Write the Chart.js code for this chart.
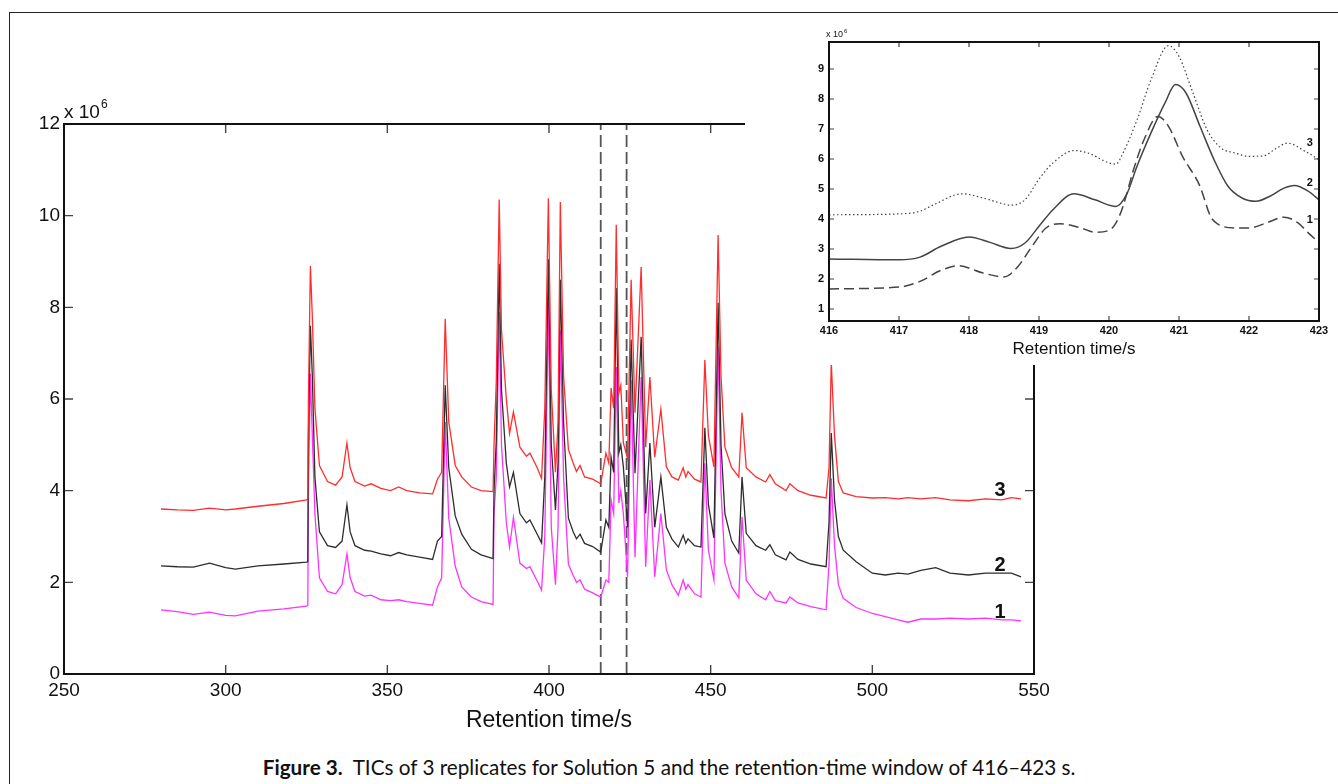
<!DOCTYPE html>
<html>
<head>
<meta charset="utf-8">
<title>TICs of 3 replicates</title>
<script src="https://cdn.jsdelivr.net/npm/chart.js@4.4.1/dist/chart.umd.min.js"></script>
<style>
  html, body { margin: 0; padding: 0; background: #fff; }
  body { width: 1338px; height: 784px; position: relative; overflow: hidden; }
  #frame { position: absolute; left: 9px; top: 12px; width: 1340px; height: 780px;
           border-left: 1.5px solid #222; border-top: 1.5px solid #222; }
  #mainBox { position: absolute; left: 0; top: 0; width: 1338px; height: 740px; }
  #insetBox { position: absolute; left: 745px; top: 20px; width: 593px; height: 345px; background: #fff; }
  #caption { position: absolute; left: 0; top: 756px; width: 1338px; text-align: center;
             font-family: Lato, "Open Sans", sans-serif; font-size: 20.7px; line-height: 22px; color: #111; }
  #caption b { font-weight: 700; }
</style>
</head>
<body>
<div id="frame"></div>
<div id="mainBox"><canvas id="mainChart" width="1338" height="740"></canvas></div>
<div id="insetBox"><canvas id="insetChart" width="593" height="345"></canvas></div>
<div id="caption"><b>Figure 3.</b>&nbsp; TICs of 3 replicates for Solution 5 and the retention-time window of 416–423 s.</div>

<script>
// -----------------------------
// Data: main chromatograms (x 10^6 counts)
// -----------------------------
const times = [280, 285, 290, 295, 300, 303, 310, 318, 325, 325.4, 325.6, 326.2, 326.8, 327.6, 329, 331.5, 334, 336,
  337.5, 338.5, 340, 343, 345, 348, 351, 353.5, 356, 360, 364, 365.5, 366.8, 367.9, 369, 371, 373, 376, 379,
  382.7, 383.0, 383.7, 384.6, 385.3, 386.8, 387.8, 389.0, 391, 393, 394.1, 396.2, 397.7, 398.7, 399.8, 400.7,
  402, 402.8, 403.5, 404.5, 406, 407.5, 408.5, 409.6, 411, 413.5, 416, 417.6, 418.5, 419.2, 420.0, 420.8,
  421.6, 422.2, 423, 424.3, 425.4, 426.6, 428.5, 429.9, 431.2, 432.7, 434.6, 436.3, 438, 440, 441.5, 442.3,
  443, 445, 447, 448.2, 449.3, 451, 452.3, 453.2, 454.4, 456.5, 458.7, 459.7, 461, 464, 467, 468.3, 470,
  473.3, 474.5, 477, 481, 485.7, 486.6, 487.3, 488.3, 489.5, 491, 495, 500, 504, 508, 511, 515, 519.6, 524,
  529.7, 535, 540, 543, 546];

const tic3 = [3.60, 3.58, 3.57, 3.62, 3.58, 3.60, 3.66, 3.72, 3.80, 3.82, 6.0, 8.9, 7.8, 5.8, 4.55, 4.2, 4.12, 4.3,
  5.04, 4.5, 4.2, 4.1, 4.15, 4.05, 4.0, 4.08, 4.0, 3.95, 3.93, 4.25, 4.4, 7.75, 5.5, 4.55, 4.3, 4.08, 4.0,
  3.98, 5.0, 6.4, 10.35, 7.5, 6.0, 5.25, 5.72, 4.95, 4.75, 4.82, 4.52, 4.27, 5.8, 10.38, 6.2,
  4.4, 5.5, 10.3, 6.5, 4.9, 4.6, 4.42, 4.55, 4.3, 4.25, 4.15, 4.82, 4.6, 6.24, 5.8, 9.8,
  6.13, 6.3, 5.04, 4.7, 8.6, 5.7, 8.88, 4.95, 6.48, 4.73, 5.78, 4.52, 4.3, 4.23, 4.5, 4.3,
  4.42, 4.25, 4.19, 6.85, 5.2, 4.52, 9.58, 6.5, 4.95, 4.5, 4.3, 5.7, 4.5, 4.3, 4.19, 4.35, 4.15,
  4.0, 4.15, 4.0, 3.9, 3.84, 4.5, 6.8, 5.2, 4.2, 3.95, 3.87, 3.84, 3.85, 3.82, 3.85, 3.82, 3.85, 3.8,
  3.78, 3.82, 3.8, 3.85, 3.82];

const tic2 = [2.36, 2.34, 2.33, 2.42, 2.32, 2.29, 2.36, 2.40, 2.44, 2.45, 5.2, 7.6, 6.5, 4.3, 3.1, 2.8, 2.76, 2.9,
  3.69, 3.1, 2.8, 2.7, 2.68, 2.62, 2.58, 2.65, 2.6, 2.55, 2.5, 2.9, 3.0, 6.3, 4.5, 3.45, 3.05, 2.72, 2.6,
  2.52, 4.0, 5.1, 8.95, 6.2, 4.6, 4.08, 4.4, 3.5, 3.3, 3.36, 3.07, 2.86, 4.3, 9.05, 5.0,
  3.58, 4.6, 8.6, 5.5, 3.4, 3.1, 2.95, 3.05, 2.85, 2.78, 2.66, 3.36, 3.2, 4.73, 4.4, 8.42,
  4.82, 5.0, 4.52, 3.2, 7.3, 4.38, 7.36, 3.5, 5.04, 3.2, 4.3, 3.2, 2.95, 2.77, 3.03, 2.85,
  2.95, 2.8, 2.77, 5.37, 3.7, 2.97, 8.1, 5.0, 3.5, 2.9, 2.64, 4.3, 3.07, 2.8, 2.7, 2.82, 2.6,
  2.49, 2.66, 2.5, 2.4, 2.34, 3.3, 5.26, 3.8, 3.0, 2.7, 2.45, 2.2, 2.16, 2.2, 2.18, 2.26, 2.32, 2.2,
  2.16, 2.2, 2.2, 2.2, 2.12];

const tic1 = [1.40, 1.36, 1.30, 1.35, 1.28, 1.27, 1.37, 1.42, 1.48, 1.50, 4.0, 6.55, 5.2, 3.5, 2.1, 1.8, 1.75, 1.95,
  2.62, 2.1, 1.8, 1.7, 1.72, 1.62, 1.6, 1.62, 1.58, 1.54, 1.5, 1.9, 2.1, 5.5, 3.4, 2.35, 1.9, 1.68, 1.58,
  1.52, 3.5, 4.3, 7.9, 5.0, 3.3, 2.77, 3.42, 2.42, 2.3, 2.34, 2.05, 1.83, 3.0, 8.1, 3.2,
  1.95, 3.2, 7.5, 4.3, 2.4, 2.15, 2.0, 2.05, 1.85, 1.77, 1.68, 2.05, 2.0, 3.8, 3.5, 6.7,
  3.73, 4.0, 3.5, 2.12, 6.41, 2.55, 6.48, 2.34, 4.23, 2.12, 3.5, 2.27, 1.95, 1.72, 2.05, 1.85,
  1.95, 1.75, 1.68, 4.6, 2.7, 2.05, 7.14, 4.0, 2.42, 1.9, 1.66, 3.43, 2.05, 1.75, 1.62, 1.8, 1.6,
  1.55, 1.68, 1.55, 1.47, 1.4, 2.4, 4.27, 2.8, 1.95, 1.65, 1.45, 1.32, 1.25, 1.18, 1.13, 1.2, 1.2, 1.22,
  1.2, 1.22, 1.18, 1.18, 1.16];

const windowBounds = [416, 424];            // dashed retention-time window
const curveNames = ['3', '2', '1'];
const curveLabelTime = 539.5;
const curveLabelValue = [4.0, 2.37, 1.35];

// -----------------------------
// Data: inset 416-423 s
// -----------------------------
const inset3Time = [416, 417, 417.3, 417.5, 417.9, 418.2, 418.5, 418.6, 418.8, 419.0, 419.2, 419.5, 419.7, 420.0,
  420.1, 420.2, 420.4, 420.6, 420.85, 421.0, 421.2, 421.4, 421.6, 421.8, 422.0, 422.2, 422.4, 422.55, 422.8, 423];
const inset3Val = [4.14, 4.17, 4.26, 4.48, 4.84, 4.7, 4.5, 4.46, 4.64, 5.33, 5.87, 6.28, 6.2, 5.87,
  5.83, 6.2, 7.3, 8.64, 9.78, 9.42, 8.2, 6.98, 6.37, 6.2, 6.09, 6.1, 6.37, 6.53, 6.26, 5.98];

const inset2Time = [416, 417, 417.3, 417.6, 418.0, 418.3, 418.6, 418.8, 419.0, 419.2, 419.5, 419.8, 420.1, 420.25,
  420.4, 420.6, 420.8, 420.95, 421.1, 421.3, 421.5, 421.7, 421.9, 422.1, 422.3, 422.5, 422.65, 422.85, 423];
const inset2Val = [2.67, 2.64, 2.73, 3.09, 3.4, 3.22, 3.02, 3.2, 3.76, 4.31, 4.84, 4.64, 4.42, 4.81,
  5.76, 6.87, 7.87, 8.48, 8.2, 7.09, 5.98, 5.09, 4.7, 4.59, 4.76, 5.03, 5.12, 4.92, 4.64];

const inset1Time = [416, 417, 417.3, 417.6, 417.85, 418.2, 418.5, 418.7, 418.9, 419.1, 419.3, 419.6, 419.8, 420.0,
  420.1, 420.2, 420.35, 420.5, 420.7, 420.85, 421.05, 421.3, 421.45, 421.55, 421.8, 422.0, 422.25, 422.5,
  422.7, 422.85, 423];
const inset1Val = [1.67, 1.73, 1.92, 2.29, 2.44, 2.2, 2.07, 2.42, 3.09, 3.7, 3.84, 3.7, 3.56, 3.62,
  3.87, 4.42, 5.64, 6.64, 7.42, 7.09, 6.09, 5.09, 4.09, 3.84, 3.7, 3.7, 3.87, 4.06,
  3.87, 3.53, 3.22];

const insetYTicks = [1, 2, 3, 4, 5, 6, 7, 8, 9];
const insetLabelTime = 422.87;
const insetLabelValue = [6.53, 5.2, 3.98];

// -----------------------------
// Helpers
// -----------------------------
const pairs = (xs, ys) => xs.map((x, i) => ({ x, y: ys[i] }));

// MATLAB style box: inward ticks on all four sides, exponent and curve labels
const matlabAxes = {
  id: 'matlabAxes',
  afterDatasetsDraw(chart, args, o) {
    const { ctx, chartArea: a, scales: { x, y } } = chart;
    ctx.save();
    ctx.strokeStyle = o.tickColor;
    ctx.lineWidth = o.tickWidth;
    ctx.beginPath();
    x.ticks.forEach(t => {
      const px = x.getPixelForValue(t.value);
      if (px <= a.left + 1 || px >= a.right - 1) return;
      ctx.moveTo(px, a.bottom); ctx.lineTo(px, a.bottom - o.tickLen);
      ctx.moveTo(px, a.top); ctx.lineTo(px, a.top + o.tickLen);
    });
    y.ticks.forEach(t => {
      const py = y.getPixelForValue(t.value);
      if (py <= a.top + 1 || py >= a.bottom - 1) return;
      ctx.moveTo(a.left, py); ctx.lineTo(a.left + o.tickLen, py);
      ctx.moveTo(a.right, py); ctx.lineTo(a.right - o.tickLen, py);
    });
    ctx.stroke();

    ctx.strokeStyle = '#111';
    ctx.lineWidth = o.boxWidth;
    ctx.strokeRect(a.left, a.top, a.width, a.height);

    // x 10^6
    ctx.fillStyle = '#111';
    ctx.textBaseline = 'alphabetic';
    ctx.textAlign = 'left';
    ctx.font = o.expFont;
    const base = 'x 10';
    ctx.fillText(base, a.left + o.expDx, a.top - o.expDy);
    const w = ctx.measureText(base).width;
    ctx.font = o.supFont;
    ctx.fillText('6', a.left + o.expDx + w + 1, a.top - o.expDy - o.supRise);

    // curve numbers
    ctx.font = o.labelFont;
    ctx.textAlign = 'center';
    ctx.textBaseline = 'middle';
    o.names.forEach((n, i) => {
      ctx.fillText(n, x.getPixelForValue(o.labelX), y.getPixelForValue(o.labelY[i]));
    });
    ctx.restore();
  }
};

// -----------------------------
// Main chart
// -----------------------------
new Chart(document.getElementById('mainChart'), {
  type: 'line',
  data: {
    datasets: [
      { label: '3', data: pairs(times, tic3), borderColor: 'rgb(255,45,45)', borderWidth: 1.3 },
      { label: '2', data: pairs(times, tic2), borderColor: 'rgb(45,45,45)', borderWidth: 1.3 },
      { label: '1', data: pairs(times, tic1), borderColor: 'rgb(255,50,255)', borderWidth: 1.3 },
      { label: 'w0', data: [{ x: windowBounds[0], y: 0 }, { x: windowBounds[0], y: 12 }],
        borderColor: '#555', borderWidth: 1.8, borderDash: [12, 5] },
      { label: 'w1', data: [{ x: windowBounds[1], y: 0 }, { x: windowBounds[1], y: 12 }],
        borderColor: '#555', borderWidth: 1.8, borderDash: [12, 5] }
    ]
  },
  options: {
    responsive: false,
    animation: false,
    devicePixelRatio: 1,
    parsing: false,
    elements: { point: { radius: 0 }, line: { tension: 0, fill: false } },
    layout: { padding: { left: 0, top: 124, right: 304, bottom: 0 } },
    plugins: {
      legend: { display: false },
      tooltip: { enabled: false },
      matlabAxes: {
        tickColor: '#444', tickWidth: 1.4, tickLen: 9, boxWidth: 2,
        expFont: '19px Arial, "Liberation Sans"', supFont: '12px Arial, "Liberation Sans"',
        expDx: 0, expDy: 6, supRise: 10,
        labelFont: 'bold 20px Arial, "Liberation Sans"',
        names: curveNames, labelX: curveLabelTime, labelY: curveLabelValue
      }
    },
    scales: {
      x: {
        type: 'linear', min: 250, max: 550,
        grid: { display: false, drawTicks: false },
        border: { display: false },
        ticks: { stepSize: 50, padding: 5, color: '#111', font: { family: 'Arial, "Liberation Sans"', size: 19 } },
        title: { display: true, text: 'Retention time/s', color: '#111',
                 font: { family: 'Arial, "Liberation Sans"', size: 23 }, padding: { top: 0, bottom: 6 } },
        afterFit: s => { s.height = 66; }
      },
      y: {
        type: 'linear', min: 0, max: 12,
        grid: { display: false, drawTicks: false },
        border: { display: false },
        ticks: { stepSize: 2, padding: 4, color: '#111', font: { family: 'Arial, "Liberation Sans"', size: 19 } },
        afterFit: s => { s.width = 64; }
      }
    }
  },
  plugins: [matlabAxes]
});

// -----------------------------
// Inset chart
// -----------------------------
new Chart(document.getElementById('insetChart'), {
  type: 'line',
  data: {
    datasets: [
      { label: '3', data: pairs(inset3Time, inset3Val), borderColor: '#444', borderWidth: 1.2, borderDash: [1.5, 2.5] },
      { label: '2', data: pairs(inset2Time, inset2Val), borderColor: '#444', borderWidth: 1.5 },
      { label: '1', data: pairs(inset1Time, inset1Val), borderColor: '#444', borderWidth: 1.5, borderDash: [10, 5] }
    ]
  },
  options: {
    responsive: false,
    animation: false,
    devicePixelRatio: 1,
    parsing: false,
    elements: { point: { radius: 0 }, line: { cubicInterpolationMode: 'monotone', fill: false } },
    layout: { padding: { left: 0, top: 22, right: 19, bottom: 0 } },
    plugins: {
      legend: { display: false },
      tooltip: { enabled: false },
      matlabAxes: {
        tickColor: '#444', tickWidth: 1.2, tickLen: 5, boxWidth: 2,
        expFont: '9px Arial, "Liberation Sans"', supFont: '6px Arial, "Liberation Sans"',
        expDx: -3, expDy: 5, supRise: 4,
        labelFont: 'bold 11px Arial, "Liberation Sans"',
        names: curveNames, labelX: insetLabelTime, labelY: insetLabelValue
      }
    },
    scales: {
      x: {
        type: 'linear', min: 416, max: 423,
        grid: { display: false, drawTicks: false },
        border: { display: false },
        ticks: { stepSize: 1, padding: 3, color: '#111', font: { family: 'Arial, "Liberation Sans"', size: 11, weight: 'bold' } },
        title: { display: true, text: 'Retention time/s', color: '#111',
                 font: { family: 'Arial, "Liberation Sans"', size: 17 }, padding: { top: 0, bottom: 5 } },
        afterFit: s => { s.height = 44; }
      },
      y: {
        type: 'linear', min: 0.6, max: 9.9,
        grid: { display: false, drawTicks: false },
        border: { display: false },
        afterBuildTicks: s => { s.ticks = insetYTicks.map(v => ({ value: v })); },
        ticks: { padding: 5, color: '#111', font: { family: 'Arial, "Liberation Sans"', size: 11, weight: 'bold' } },
        afterFit: s => { s.width = 84; }
      }
    }
  },
  plugins: [matlabAxes]
});
</script>
</body>
</html>
